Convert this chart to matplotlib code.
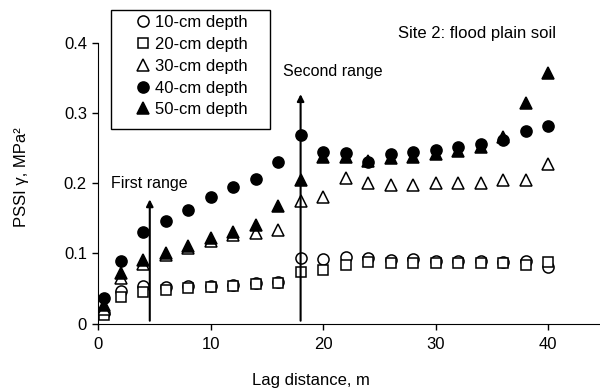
import matplotlib
matplotlib.use("Agg")
from matplotlib import pyplot as plt
from matplotlib.patches import Rectangle

plt.rcParams["font.family"] = ["Liberation Sans", "DejaVu Sans"]

lag = [0.5, 2, 4, 6, 8, 10, 12, 14, 16, 18, 20, 22, 24, 26, 28, 30, 32, 34, 36, 38, 40]
d10 = [0.015, 0.047, 0.053, 0.052, 0.054, 0.054, 0.055, 0.058, 0.059, 0.093, 0.092, 0.095,
       0.094, 0.091, 0.092, 0.089, 0.089, 0.089, 0.088, 0.089, 0.080]
d20 = [0.012, 0.038, 0.045, 0.048, 0.050, 0.052, 0.054, 0.056, 0.058, 0.073, 0.077, 0.084,
       0.087, 0.086, 0.086, 0.086, 0.086, 0.086, 0.086, 0.084, 0.088]
d30 = [0.020, 0.065, 0.085, 0.098, 0.108, 0.117, 0.126, 0.129, 0.134, 0.175, 0.181, 0.207,
       0.200, 0.198, 0.198, 0.200, 0.200, 0.200, 0.205, 0.205, 0.228]
d40 = [0.036, 0.089, 0.131, 0.146, 0.162, 0.180, 0.195, 0.206, 0.230, 0.269, 0.245, 0.243,
       0.230, 0.241, 0.244, 0.248, 0.251, 0.256, 0.261, 0.274, 0.282]
d50 = [0.027, 0.072, 0.091, 0.100, 0.111, 0.122, 0.131, 0.141, 0.167, 0.204, 0.237, 0.237,
       0.232, 0.236, 0.238, 0.242, 0.246, 0.252, 0.266, 0.315, 0.357]

series = [
    (d10, "o", "white", "10-cm depth"),
    (d20, "s", "white", "20-cm depth"),
    (d30, "^", "white", "30-cm depth"),
    (d40, "o", "black", "40-cm depth"),
    (d50, "^", "black", "50-cm depth"),
]
msize = {"o": 8, "s": 7, "^": 8}

fig = plt.figure(figsize=(6, 3.92), dpi=100)
ax = fig.add_axes([98 / 600, 68.5 / 392, 502 / 600, 280.5 / 392])

for vals, mk, fc, lab in series:
    ax.plot(lag, vals, linestyle="none", marker=mk, markersize=msize[mk],
            markerfacecolor=fc, markeredgecolor="black", markeredgewidth=1.1, label=lab)

# range arrows
ax.annotate("", xy=(4.6, 0.181), xytext=(4.6, 0.0),
            arrowprops=dict(arrowstyle="-|>", color="black", lw=1.5, mutation_scale=10))
ax.annotate("", xy=(18, 0.331), xytext=(18, 0.0),
            arrowprops=dict(arrowstyle="-|>", color="black", lw=1.5, mutation_scale=10))
ax.text(4.6, 0.2, "First range", ha="center", va="center", fontsize=11.5)
ax.text(16.4, 0.36, "Second range", ha="left", va="center", fontsize=11.5)
ax.text(40.7, 0.4136, "Site 2: flood plain soil", ha="right", va="center", fontsize=12)

ax.set_xlim(0, 44.6)
ax.set_ylim(0, 0.4)
ax.set_xticks([0, 10, 20, 30, 40])
ax.set_yticks([0, 0.1, 0.2, 0.3, 0.4])
ax.set_yticklabels(["0", "0.1", "0.2", "0.3", "0.4"])
ax.tick_params(direction="out", length=4, labelsize=12, width=1)
ax.tick_params(axis="x", pad=6)
ax.tick_params(axis="y", pad=4)
ax.spines["top"].set_visible(False)
ax.spines["right"].set_visible(False)
ax.set_xlabel("Lag distance, m", fontsize=12)
ax.xaxis.set_label_coords((311 - 98) / 502, -(380 - 323.5) / 280.5)
ax.set_ylabel("PSSI γ, MPa²", fontsize=12)
ax.yaxis.set_label_coords(-(98 - 22) / 502, 0.522)
ax.yaxis.label.set_va("center")
ax.xaxis.label.set_va("center")

# legend with a fixed frame
fig.patches.append(Rectangle((111 / 600, 1 - 129 / 392), 159 / 600, 119 / 392,
                             transform=fig.transFigure, fill=False, edgecolor="black", lw=1))
fig.legend(loc="upper left", bbox_to_anchor=(135 / 600, 1 - 15 / 392),
           fontsize=12, frameon=False, handletextpad=0.2, handlelength=1.0,
           borderpad=0, labelspacing=0.41, borderaxespad=0)

fig.savefig("out.png", dpi=100)
